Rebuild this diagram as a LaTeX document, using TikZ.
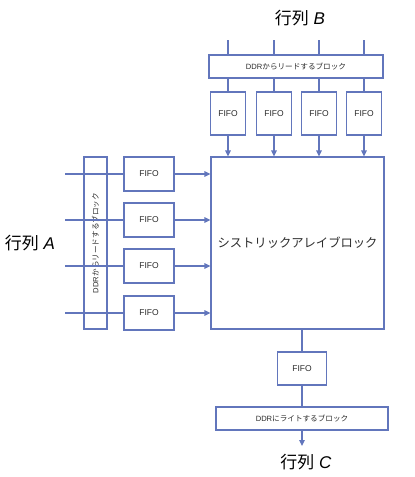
\documentclass[tikz,border=0pt]{standalone}
\usepackage{fontspec}
\setmainfont{Liberation Sans}
\newfontfamily\cjk{Noto Sans CJK JP}
\usetikzlibrary{arrows.meta}
\definecolor{ln}{RGB}{98,118,188}
\definecolor{tx}{RGB}{45,45,45}
\tikzset{
  box/.style={draw=ln, line width=1.2pt, fill=white, inner sep=0pt, text=tx},
  fifo/.style={box, font=\fontsize{8.5}{9}\selectfont},
  ddr/.style={box, font=\fontsize{7.6}{8}\selectfont},
  wire/.style={draw=ln, line width=1.2pt},
  arr/.style={wire, -{Triangle[length=6pt,width=5.5pt]}},
  title/.style={text=black, font=\fontsize{17}{18}\selectfont},
}
\begin{document}
\begin{tikzpicture}[x=1pt,y=-1pt]
\useasboundingbox (0,0) rectangle (415,477);
% titles
\node[title] (tB) at (300,18) {{\cjk 行列} \textit{B}};
\node[title] (tA) at (30,243) {{\cjk 行列} \textit{A}};
\node[title] (tC) at (306,462) {{\cjk 行列} \textit{C}};
% systolic block
\node[box, minimum width=173pt, minimum height=172pt, font=\cjk\fontsize{12.3}{13}\selectfont] (sys) at (297.5,243) {シストリックアレイブロック};
% top DDR
\node[ddr, minimum width=174pt, minimum height=23pt] (ddrB) at (296,66.5) {DDR{\cjk からリードするブロック}};
\foreach \i/\x in {1/228,2/274,3/319,4/364}{
  \node[fifo, minimum width=35pt, minimum height=43pt] (fb\i) at (\x,113.5) {FIFO};
  \coordinate (bIn\i) at (\x,40);
  \draw[wire] (bIn\i) -- (bIn\i |- ddrB.north);
  \draw[wire] (ddrB.south -| fb\i) -- (fb\i.north);
  \draw[arr] (fb\i.south) -- (fb\i.south |- sys.north);
}
% left DDR
\node[ddr, minimum width=172pt, minimum height=23pt, rotate=90] (ddrA) at (95.5,243) {DDR{\cjk からリードするブロック}};
\foreach \i/\y in {1/174,2/220,3/266,4/313}{
  \node[fifo, minimum width=50pt, minimum height=34pt] (fa\i) at (149,\y) {FIFO};
  \coordinate (aIn\i) at (65,\y);
  \draw[wire] (aIn\i) -- (aIn\i -| ddrA.south);
  \draw[wire] (ddrA.north |- fa\i) -- (fa\i.west);
  \draw[arr] (fa\i.east) -- (fa\i.east -| sys.west);
}
% bottom
\node[fifo, minimum width=49pt, minimum height=33pt] (fc) at (302,368.5) {FIFO};
\node[ddr, minimum width=172pt, minimum height=23pt] (ddrC) at (302,418.5) {DDR{\cjk にライトするブロック}};
\coordinate (cOut) at (302,446);
\draw[wire] (sys.south -| fc) -- (fc.north);
\draw[wire] (fc.south) -- (fc.south |- ddrC.north);
\draw[arr] (ddrC.south -| cOut) -- (cOut);
\end{tikzpicture}
\end{document}
